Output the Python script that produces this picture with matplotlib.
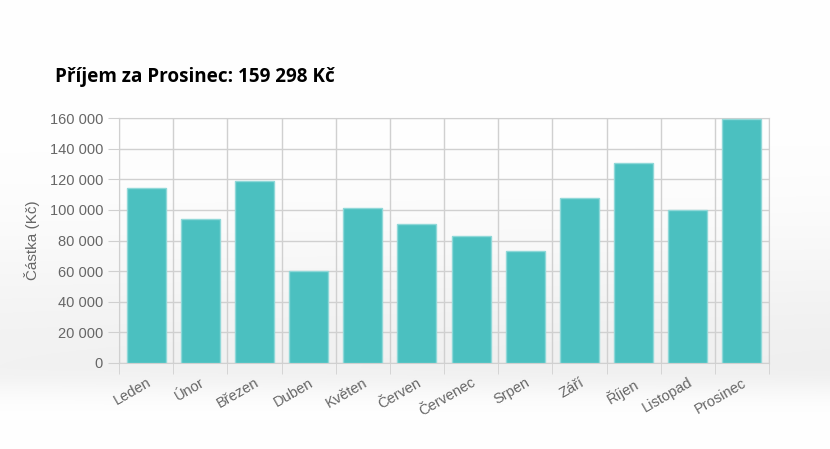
import matplotlib
matplotlib.use("Agg")
import matplotlib.pyplot as plt
import numpy as np

months = ["Leden", "Únor", "Březen", "Duben", "Květen", "Červen",
          "Červenec", "Srpen", "Září", "Říjen", "Listopad", "Prosinec"]
income = [114300, 94000, 119000, 60000, 101300, 91000,
          83000, 73000, 108000, 130600, 100000, 159298]
yticks = [0, 20000, 40000, 60000, 80000, 100000, 120000, 140000, 160000]
title = "Příjem za Prosinec: 159 298 Kč"
ylabel = "Částka (Kč)"

W, H = 830, 449
fig = plt.figure(figsize=(W / 100, H / 100), dpi=100)

# soft gray background band behind the chart
bg = fig.add_axes([0, 0, 1, 1], zorder=-10)
yy = np.linspace(0, 1, 300)[:, None]          # 0 = top, 1 = bottom
xx = np.linspace(0, 1, 400)[None, :]
above = np.exp(-((yy - 0.82) / 0.30) ** 2)
below = np.exp(-((yy - 0.82) / 0.06) ** 2)
prof = np.where(yy < 0.82, above, below)
shade = 1 - 0.06 * prof * (0.85 + 0.15 * xx)
bg.imshow(np.dstack([shade] * 3), aspect="auto", extent=[0, 1, 0, 1])
bg.axis("off")

ax = fig.add_axes([119 / W, 1 - 363 / H, 650 / W, 245 / H])
ax.set_facecolor("none")

x = np.arange(len(months))
ax.bar(x, income, width=0.72, color="#4bc0c0", edgecolor="#8fd8d8",
       linewidth=1, zorder=3)

ax.set_xlim(-0.5, len(months) - 0.5)
ax.set_ylim(0, 160000)
ax.set_yticks(yticks)
ax.set_yticklabels([f"{v:,}".replace(",", " ") for v in yticks])
ax.set_xticks(x)
ax.set_xticklabels(months, rotation=30, ha="right", rotation_mode="anchor")
ax.set_xticks(np.arange(-0.5, len(months), 1), minor=True)

ax.grid(True, axis="y", color="#d0d0d0", linewidth=1, zorder=0)
ax.grid(True, axis="x", which="minor", color="#d0d0d0", linewidth=1, zorder=0)
ax.tick_params(axis="x", which="major", length=0, pad=9,
               labelsize=10.5, labelcolor="#666666", labelfontfamily="Liberation Sans")
ax.tick_params(axis="x", which="minor", length=8, color="#d0d0d0")
ax.tick_params(axis="y", length=8, color="#d0d0d0", pad=3.5,
               labelsize=10.5, labelcolor="#666666", labelfontfamily="Liberation Sans")
for s in ax.spines.values():
    s.set_color("#d0d0d0")

ax.set_ylabel(ylabel, fontsize=11, color="#666666", family="Liberation Sans",
              labelpad=7)

fig.text(55 / W, 1 - 77 / H, title, fontsize=13.6, fontweight="bold",
         family="Open Sans", color="black", va="center", ha="left")

fig.savefig("out.png", dpi=100)
